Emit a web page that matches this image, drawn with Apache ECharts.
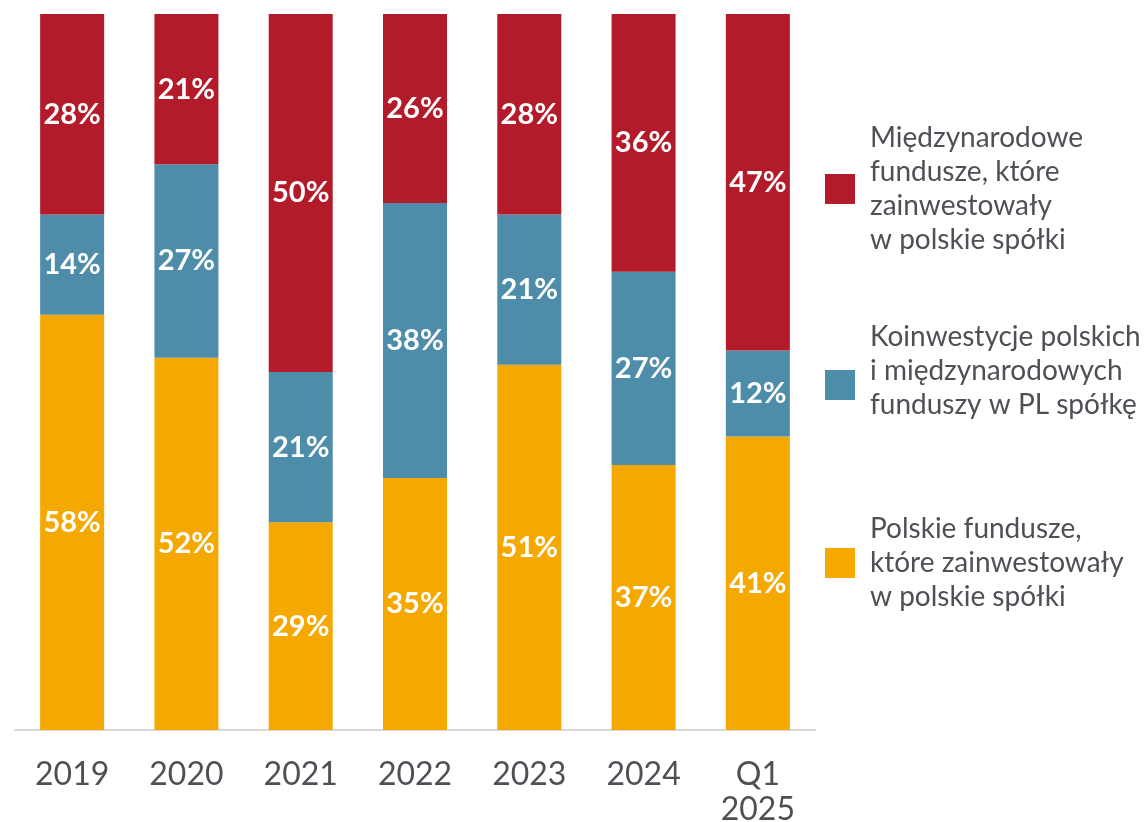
<!DOCTYPE html>
<html>
<head>
<meta charset="utf-8">
<script src="https://cdn.jsdelivr.net/npm/echarts@6/dist/echarts.min.js"></script>
<style>
html,body{margin:0;padding:0;background:#fff;}
#chart{width:1145px;height:822px;}
</style>
</head>
<body>
<div id="chart"></div>
<script>
var categories = ['2019', '2020', '2021', '2022', '2023', '2024', 'Q1\n2025'];
var polskie = [58, 52, 29, 35.2, 51, 37, 41];
var koinwestycje = [14, 27, 21, 38.4, 21, 27, 12];
var miedzynarodowe = [28, 21, 50, 26.4, 28, 36, 47];
var seriesNames = [
  'Polskie fundusze,\nktóre zainwestowały\nw polskie spółki',
  'Koinwestycje polskich\ni międzynarodowych\nfunduszy w PL spółkę',
  'Międzynarodowe\nfundusze, które\nzainwestowały\nw polskie spółki'
];
var colors = ['#F5A800', '#4E8DAA', '#B31B2A'];

var chart = echarts.init(document.getElementById('chart'));
var font = 'Lato, "Noto Sans", sans-serif';
function mkSeries(name, data, color) {
  return {
    name: name, type: 'bar', stack: 'total', data: data, barWidth: '56%',
    itemStyle: { color: color },
    label: {
      show: true, position: 'inside', color: '#fff', fontFamily: font,
      fontWeight: 'bold', fontSize: 29,
      formatter: function (p) { return Math.round(p.value) + '%'; }
    }
  };
}
function mkLegend(name, top, shiftUp) {
  var txtStyle = { fontFamily: font, fontSize: 28, lineHeight: 34, color: '#4d5156', padding: [0, 0, 0, 10] };
  var lg = {
    data: [name], left: 825, top: top, orient: 'vertical', padding: 0,
    icon: 'rect', itemWidth: 30, itemHeight: 30,
    selectedMode: false,
    textStyle: txtStyle
  };
  if (shiftUp) {
    txtStyle.rich = {
      a: { fontFamily: font, fontSize: 28, lineHeight: 34, color: '#4d5156' },
      b: { fontSize: 10, lineHeight: 28 }
    };
    lg.formatter = function (n) {
      return n.split('\n').map(function (l) { return '{a|' + l + '}'; }).join('\n') + '\n{b| }';
    };
  }
  return lg;
}
chart.setOption({
  animation: false,
  grid: { left: 15, right: 330, top: 14, bottom: 92, containLabel: false, outerBoundsMode: 'none' },
  xAxis: {
    type: 'category', data: categories,
    axisLine: { lineStyle: { color: '#d9d9d9', width: 2 } },
    axisTick: { show: false },
    axisLabel: { fontFamily: font, fontSize: 32, lineHeight: 35, color: '#4d5156', margin: 27 }
  },
  yAxis: { type: 'value', min: 0, max: 100, show: false, splitLine: { show: false } },
  legend: [
    mkLegend(seriesNames[2], 121, false),
    mkLegend(seriesNames[1], 320, true),
    mkLegend(seriesNames[0], 512, false)
  ],
  series: [
    mkSeries(seriesNames[0], polskie, colors[0]),
    mkSeries(seriesNames[1], koinwestycje, colors[1]),
    mkSeries(seriesNames[2], miedzynarodowe, colors[2])
  ]
});
</script>
</body>
</html>
